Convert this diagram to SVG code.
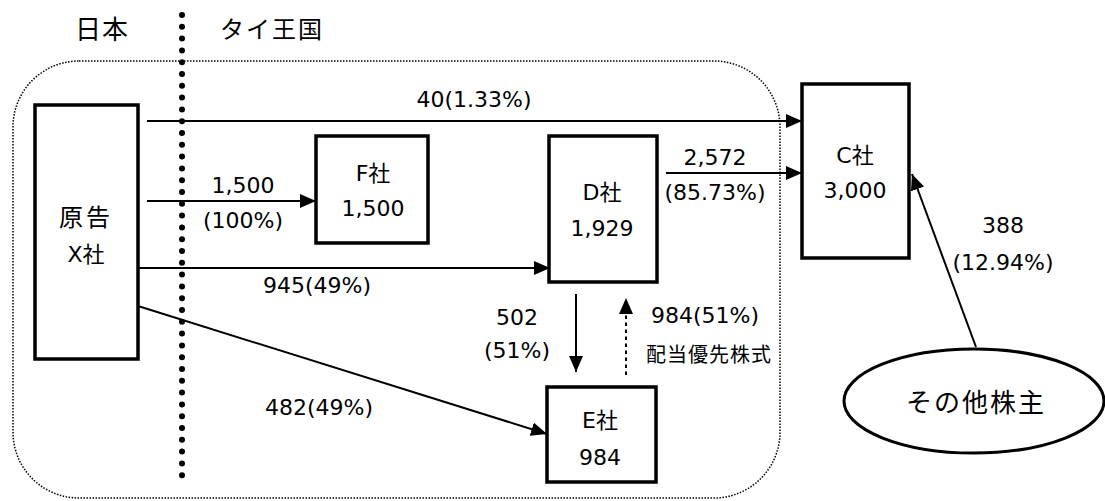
<svg xmlns="http://www.w3.org/2000/svg" width="1105" height="501" viewBox="0 0 1105 501">
<style>
.t{font-family:"DejaVu Sans","Noto Sans CJK JP",sans-serif;font-size:22px;fill:#000;text-anchor:middle}
.j{font-family:"Noto Sans CJK JP","DejaVu Sans",sans-serif;font-size:24px;fill:#000;text-anchor:middle}
.box{fill:#fff;stroke:#000;stroke-width:3.5}
.c{stroke:#000;stroke-width:2;fill:none}
</style>
<defs>
<marker id="ah" markerUnits="userSpaceOnUse" markerWidth="16" markerHeight="14" refX="16" refY="7" orient="auto">
<path d="M0,0 L16,7 L0,14 Z" fill="#000"/>
</marker>
</defs>
<rect x="13" y="61" width="767" height="437" rx="66" fill="none" stroke="#000" stroke-width="1.5" stroke-dasharray="1.5 1.5"/>
<line x1="182" y1="15" x2="182" y2="482" stroke="#000" stroke-width="6" stroke-linecap="round" stroke-dasharray="0 11.8"/>
<text class="j" x="102" y="39" style="font-size:26px" letter-spacing="1">日本</text>
<text class="j" x="272" y="38" letter-spacing="2">タイ王国</text>
<g id="connectors">
<line class="c" x1="147" y1="121" x2="802" y2="121" marker-end="url(#ah)"/>
<line class="c" x1="147" y1="201" x2="316" y2="201" marker-end="url(#ah)"/>
<line class="c" x1="138" y1="268" x2="550" y2="268" marker-end="url(#ah)"/>
<line class="c" x1="666" y1="173" x2="802" y2="173" marker-end="url(#ah)"/>
<line class="c" x1="138" y1="306" x2="547" y2="434" marker-end="url(#ah)"/>
<line class="c" x1="576" y1="294" x2="576" y2="372" marker-end="url(#ah)"/>
<line class="c" x1="626" y1="375" x2="626" y2="298" stroke-width="3.5" stroke-dasharray="3.5 3.5" marker-end="url(#ah)"/>
<line class="c" x1="976" y1="347" x2="912" y2="174" stroke-width="1.8" marker-end="url(#ah)"/>
<text class="t" x="474" y="107">40(1.33%)</text>
<text class="t" x="243" y="193">1,500</text>
<text class="t" x="243" y="228">(100%)</text>
<text class="t" x="317" y="293">945(49%)</text>
<text class="t" x="715" y="165">2,572</text>
<text class="t" x="715" y="200">(85.73%)</text>
<text class="t" x="1003" y="233">388</text>
<text class="t" x="1003" y="270">(12.94%)</text>
<text class="t" x="517" y="325">502</text>
<text class="t" x="517" y="358">(51%)</text>
<text class="t" x="705" y="323">984(51%)</text>
<text class="j" x="709" y="362" style="font-size:20px" letter-spacing="1">配当優先株式</text>
<text class="t" x="319" y="415">482(49%)</text>
</g>
<g id="nodeX">
<rect class="box" x="35" y="105" width="103" height="254"/>
<text class="j" x="86" y="226" letter-spacing="3">原告</text>
<text class="t" x="86" y="262">X社</text>
</g>
<g id="nodeF">
<rect class="box" x="316" y="136" width="112" height="107"/>
<text class="t" x="373" y="181">F社</text>
<text class="t" x="373" y="216">1,500</text>
</g>
<g id="nodeD">
<rect class="box" x="549" y="136" width="108" height="146"/>
<text class="t" x="602" y="200">D社</text>
<text class="t" x="602" y="236">1,929</text>
</g>
<g id="nodeC">
<rect class="box" x="802" y="84" width="107" height="174"/>
<text class="t" x="855" y="163">C社</text>
<text class="t" x="855" y="198">3,000</text>
</g>
<g id="nodeE">
<rect class="box" x="547" y="387" width="109" height="95"/>
<text class="t" x="600" y="428">E社</text>
<text class="t" x="600" y="465">984</text>
</g>
<g id="nodeOther">
<ellipse cx="974" cy="401" rx="130" ry="52" fill="#fff" stroke="#000" stroke-width="3"/>
<text class="j" x="976" y="412" style="font-size:26px" letter-spacing="2">その他株主</text>
</g>
</svg>
